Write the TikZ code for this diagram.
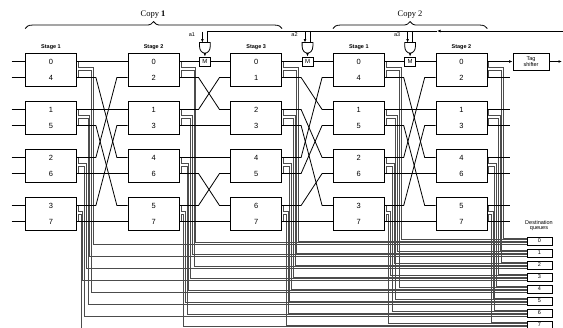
\documentclass[tikz,border=0pt]{standalone}
\usepackage{fontspec}
\setmainfont{Liberation Serif}
\setsansfont{Liberation Sans}
\usetikzlibrary{arrows.meta,decorations.pathreplacing}

% port labels of each stage (top to bottom) and their inverse
\def\laba{{0,4,1,5,2,6,3,7}}
\def\labb{{0,2,1,3,4,6,5,7}}
\def\labc{{0,1,2,3,4,5,6,7}}
\def\inva{{0,2,4,6,1,3,5,7}}
\def\invb{{0,2,1,3,4,6,5,7}}
\def\invc{{0,1,2,3,4,5,6,7}}

\tikzset{
  swbox/.style={draw, minimum width=51pt, minimum height=33pt, inner sep=0pt},
  num/.style={font=\sffamily\fontsize{7.5}{7.5}\selectfont, inner sep=0pt},
  stagelbl/.style={font=\sffamily\bfseries\fontsize{5.5}{6}\selectfont, inner sep=0pt},
  copylbl/.style={font=\fontsize{8.5}{9}\selectfont, inner sep=0pt},
  mbox/.style={draw, fill=white, minimum width=11pt, minimum height=9pt, inner sep=0pt, font=\sffamily\fontsize{6}{6}\selectfont},
  gatebox/.style={minimum width=10pt, minimum height=10pt, inner sep=0pt},
  smalllbl/.style={font=\sffamily\fontsize{5.5}{5.5}\selectfont, inner sep=0pt, align=center},
  qbox/.style={draw, fill=white, minimum width=25pt, minimum height=8pt, inner sep=0pt, font=\sffamily\fontsize{5.5}{5.5}\selectfont},
  tap/.style={black!70, line width=0.7pt},
}

\begin{document}
\begin{tikzpicture}[x=1pt, y=-1pt, line width=0.8pt, >={Latex[length=3.5pt,width=2.8pt]}]
\useasboundingbox (0,0) rectangle (563,328);

% switch boxes
\foreach \col/\stg/\sn in {1/a/1,2/b/2,3/c/3,4/a/1,5/b/2} {
  \pgfmathsetmacro\xc{51+102.6*(\col-1)}
  \foreach \bx in {0,...,3}
    \node[swbox] (s\col-\bx) at (\xc, 69.5+48*\bx) {};
  \node[stagelbl] (st\col) at (\xc, 47) {Stage \sn};
  \expandafter\let\expandafter\curlab\csname lab\stg\endcsname
  \foreach \p in {0,...,7} {
    \pgfmathtruncatemacro\bx{div(\p,2)}
    \pgfmathtruncatemacro\ox{mod(\p,2)}
    \pgfmathtruncatemacro\lb{\curlab[\p]}
    \pgfmathsetmacro\dy{8-16*\ox}
    \node[num] (n\col-\p) at ([yshift=\dy pt]s\col-\bx.center) {\lb};
  }
}

% copies
\draw[decorate, decoration={brace, amplitude=7pt}] ([yshift=24pt]s1-0.north west) -- ([yshift=24pt]s3-0.north east);
\node[copylbl] (cp1) at (153,15) {Copy \textbf{1}};
\draw[decorate, decoration={brace, amplitude=7pt}] ([yshift=24pt]s4-0.north west) -- ([yshift=24pt]s5-0.north east);
\node[copylbl] (cp2) at (410,15) {Copy 2};

% destination queues
\foreach \k in {0,...,7}
  \node[qbox] (q\k) at (539.5, 241+12*\k) {\k};
\node[smalllbl] (dq) at (539, 225.5) {Destination\\queues};

% taps down to the queues
\foreach \col/\stg in {1/a,2/b,3/c,4/a,5/b} {
  \expandafter\let\expandafter\curlab\csname lab\stg\endcsname
  \pgfmathsetmacro\qo{1.5*\col-4.5}
  \foreach \p in {0,...,7} {
    \pgfmathtruncatemacro\bx{div(\p,2)}
    \pgfmathtruncatemacro\ox{mod(\p,2)}
    \pgfmathtruncatemacro\lb{\curlab[\p]}
    \pgfmathsetmacro\dy{8-16*\ox}
    \pgfmathsetmacro\vv{6-13*\ox}
    \pgfmathsetmacro\hh{2.5+3.5*(3-\bx)+1.8*(1-\ox)}
    \draw[tap] ([xshift=1.5pt, yshift=\dy pt]s\col-\bx.east) -- ++(0,\vv) -- ++(\hh,0) |- ([yshift=\qo pt]q\lb.west);
  }
}

% gates and M
\foreach \g in {1,2,3} {
  \pgfmathsetmacro\gx{102.3+102.6*\g}
  \node[mbox] (m\g) at (\gx, 61.5) {M};
  \node[gatebox] (g\g) at (\gx, 48) {};
  \draw (g\g.north west) -- (g\g.north east) -- ([yshift=2pt]g\g.east)
    .. controls ([yshift=-7.5pt]g\g.east) and ([yshift=-7.5pt]g\g.west) .. ([yshift=2pt]g\g.west) -- cycle;
  \draw[->] (g\g.south) -- (m\g.north);
  \coordinate (as\g) at ([xshift=-2.5pt, yshift=11pt]g\g.north);
  \draw[->] (as\g) -- ([xshift=-2.5pt]g\g.north);
  \node[smalllbl] (a\g) at ([xshift=-13pt, yshift=8pt]g\g.north) {a\g};
  \coordinate (gr\g) at ([xshift=2.5pt]g\g.north);
}

% feedback from tag shifter
\coordinate (fbin) at (563,31);
\coordinate (fbmid) at (437,31);
\draw[->] (fbin) -- (fbmid);
\draw (fbmid) -| (gr1);
\draw (gr2 |- fbin) -- (gr2);
\draw (gr3 |- fbin) -- (gr3);

% inputs
\foreach \p in {0,...,7} {
  \pgfmathtruncatemacro\bx{div(\p,2)}
  \pgfmathtruncatemacro\ox{mod(\p,2)}
  \pgfmathsetmacro\dy{8-16*\ox}
  \coordinate (in\p) at ([xshift=-13.5pt, yshift=\dy pt]s1-\bx.west);
  \draw (in\p) -- ([yshift=\dy pt]s1-\bx.west);
}

% links between stages
\foreach \col/\stg/\nxt/\nstg in {1/a/2/b,2/b/3/c,3/c/4/a,4/a/5/b} {
  \expandafter\let\expandafter\curlab\csname lab\stg\endcsname
  \expandafter\let\expandafter\nxtinv\csname inv\nstg\endcsname
  \foreach \p in {0,...,7} {
    \pgfmathtruncatemacro\bx{div(\p,2)}
    \pgfmathtruncatemacro\ox{mod(\p,2)}
    \pgfmathtruncatemacro\lb{\curlab[\p]}
    \pgfmathtruncatemacro\qp{\nxtinv[\lb]}
    \pgfmathtruncatemacro\bq{div(\qp,2)}
    \pgfmathtruncatemacro\oq{mod(\qp,2)}
    \pgfmathsetmacro\dy{8-16*\ox}
    \pgfmathsetmacro\dq{8-16*\oq}
    \pgfmathsetmacro\rise{48*(\bq-\bx)+16*(\oq-\ox)}
    \pgfmathtruncatemacro\skipit{and(\p==0,\col>1)}
    \ifnum\skipit=0
      \ifnum\qp=\p
        \draw ([yshift=\dy pt]s\col-\bx.east) -- ([yshift=\dq pt]s\nxt-\bq.west);
      \else
        \draw ([yshift=\dy pt]s\col-\bx.east) -- ++(19,0) -- ++(21,\rise) -- ([yshift=\dq pt]s\nxt-\bq.west);
      \fi
    \fi
  }
}
\foreach \g in {1,2,3} {
  \pgfmathtruncatemacro\lc{\g+1}
  \pgfmathtruncatemacro\rc{\g+2}
  \draw ([yshift=8pt]s\lc-0.east) -- (m\g.west);
  \draw (m\g.east) -- ([yshift=8pt]s\rc-0.west);
}

% last stage outputs
\foreach \p in {1,...,7} {
  \pgfmathtruncatemacro\bx{div(\p,2)}
  \pgfmathtruncatemacro\ox{mod(\p,2)}
  \pgfmathsetmacro\dy{8-16*\ox}
  \coordinate (end\p) at ([xshift=23pt, yshift=\dy pt]s5-\bx.east);
  \draw ([yshift=\dy pt]s5-\bx.east) -- (end\p);
}
\node[draw, smalllbl, minimum width=36pt, minimum height=17pt] (tag) at (531,61.5) {Tag\\shifter};
\draw[->] ([yshift=8pt]s5-0.east) -- (tag.west);
\coordinate (tagout) at (562,61.5);
\draw[->] (tag.east) -- (tagout);
\end{tikzpicture}
\end{document}
